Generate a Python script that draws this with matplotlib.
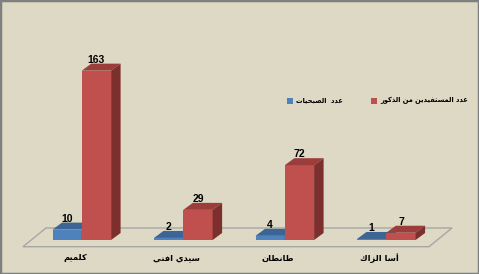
import matplotlib
matplotlib.use('Agg')
import matplotlib.pyplot as plt
from matplotlib.patches import Polygon, Rectangle

# data
categories = ['كلميم', 'سيدي افني', 'طانطان', 'أسا الزاك']
sobhiyat = [10, 2, 4, 1]
beneficiaries = [163, 29, 72, 7]
series_names = ['عدد  الصبحيات', 'عدد المستفيدين من الذكور']

# tiny arabic shaper (matplotlib does no shaping / bidi)
FORMS = {
    'ا': (0xFE8D, 0xFE8E, None, None), 'أ': (0xFE83, 0xFE84, None, None),
    'ب': (0xFE8F, 0xFE90, 0xFE91, 0xFE92), 'ت': (0xFE95, 0xFE96, 0xFE97, 0xFE98),
    'ح': (0xFEA1, 0xFEA2, 0xFEA3, 0xFEA4), 'د': (0xFEA9, 0xFEAA, None, None),
    'ذ': (0xFEAB, 0xFEAC, None, None), 'ر': (0xFEAD, 0xFEAE, None, None),
    'ز': (0xFEAF, 0xFEB0, None, None), 'س': (0xFEB1, 0xFEB2, 0xFEB3, 0xFEB4),
    'ص': (0xFEB9, 0xFEBA, 0xFEBB, 0xFEBC), 'ط': (0xFEC1, 0xFEC2, 0xFEC3, 0xFEC4),
    'ع': (0xFEC9, 0xFECA, 0xFECB, 0xFECC), 'ف': (0xFED1, 0xFED2, 0xFED3, 0xFED4),
    'ك': (0xFED9, 0xFEDA, 0xFEDB, 0xFEDC), 'ل': (0xFEDD, 0xFEDE, 0xFEDF, 0xFEE0),
    'م': (0xFEE1, 0xFEE2, 0xFEE3, 0xFEE4), 'ن': (0xFEE5, 0xFEE6, 0xFEE7, 0xFEE8),
    'و': (0xFEED, 0xFEEE, None, None), 'ي': (0xFEF1, 0xFEF2, 0xFEF3, 0xFEF4),
}


def shape(s):
    out = []
    for i, c in enumerate(s):
        if c not in FORMS:
            out.append(c)
            continue
        f = FORMS[c]
        prev = s[i - 1] if i > 0 else ''
        nxt = s[i + 1] if i + 1 < len(s) else ''
        jp = prev in FORMS and FORMS[prev][2] is not None
        jn = nxt in FORMS and f[2] is not None
        if jp and jn:
            g = f[3]
        elif jp:
            g = f[1]
        elif jn:
            g = f[2]
        else:
            g = f[0]
        out.append(chr(g))
    return ''.join(out[::-1])


bg = '#DDD9C4'
W, H = 479, 274
fig = plt.figure(figsize=(W / 100, H / 100), dpi=100, facecolor=bg)
ax = fig.add_axes([0, 0, 1, 1])
ax.set_facecolor(bg)
ax.axis('off')

# scales: one category = 101.5 px, one unit = 1.039 px, zero at y=240 px
px_x = 101.5
px_y = 1.039
ax.set_xlim(-81.8 / px_x, (W - 81.8) / px_x)
ax.set_ylim(-(H - 240) / px_y, 240 / px_y)

w = 29.3 / px_x
dx = 9.5 / px_x
dy = 7.0 / px_y

# floor
fdx, fdy = 23 / px_x, 18.7 / px_y
f0, f1 = -6.7 / px_y, -(58.8) / px_x
floor = Polygon([(f1, f0), (f1 + 406 / px_x, f0), (f1 + 406 / px_x + fdx, f0 + fdy),
                 (f1 + fdx, f0 + fdy)], closed=True, fill=False,
                edgecolor='#A6A6A6', lw=1.0, zorder=1)
ax.add_patch(floor)

colors = [('#4F81BD', '#3C6494', '#2F4F77'), ('#C0504D', '#9B3D3B', '#7D2F2E')]

for i in range(len(categories)):
    for j, vals in enumerate([sobhiyat, beneficiaries]):
        v = vals[i]
        x0 = i - w + j * w
        front, top, side = colors[j]
        z = 2 + i * 2 + j
        ax.bar(x0, v, width=w, align='edge', color=front, lw=0, zorder=z)
        ax.add_patch(Polygon([(x0, v), (x0 + w, v), (x0 + w + dx, v + dy), (x0 + dx, v + dy)],
                             closed=True, facecolor=top, lw=0, zorder=z))
        ax.add_patch(Polygon([(x0 + w, 0), (x0 + w + dx, dy), (x0 + w + dx, v + dy), (x0 + w, v)],
                             closed=True, facecolor=side, lw=0, zorder=z))
        ax.text(x0 + w / 2, v + dy + 1, str(v), ha='center', va='baseline',
                fontsize=7.5, fontweight='bold', color='black', family='Liberation Sans',
                zorder=20)
    ax.text(i - 7 / px_x, -18 / px_y, shape(categories[i]), ha='center', va='center',
            fontsize=6, fontweight='bold', family='DejaVu Sans')

# legend
for (sx, tx), name, c in zip([(287, 296), (371, 380)], series_names,
                             [colors[0][0], colors[1][0]]):
    fig.patches.append(Rectangle((sx / W, 1 - 104 / H), 6 / W, 6 / H, transform=fig.transFigure,
                                 facecolor=c, lw=0))
    fig.text(tx / W, 1 - 100 / H, shape(name), ha='left', va='center',
             fontsize=5.3, fontweight='bold', stretch='condensed')

fig.patches.append(Rectangle((0, 0), 1, 1, transform=fig.transFigure, fill=False,
                             edgecolor='#7F7F7F', lw=2.5))

fig.savefig('out.png', dpi=100, facecolor=bg)
